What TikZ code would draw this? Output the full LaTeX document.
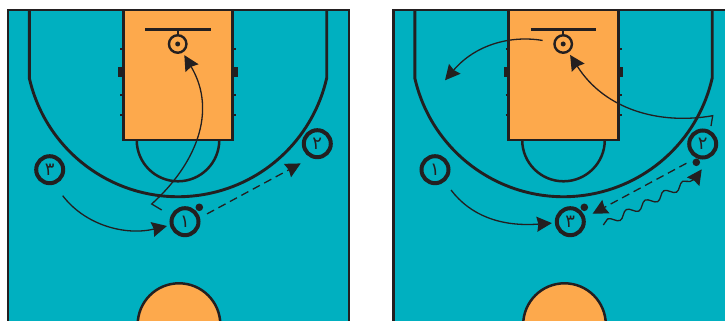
\documentclass[tikz,border=0pt]{standalone}
\usepackage{fontspec}
\usepackage{tikz}
\usetikzlibrary{arrows.meta,decorations.pathmorphing}
\newfontfamily\arabicfont[Script=Arabic]{DejaVu Sans}
\TeXXeTstate=1
\definecolor{courtteal}{RGB}{0,176,192}
\definecolor{keyorange}{RGB}{253,169,76}
\definecolor{inkblack}{RGB}{35,31,32}

\begin{document}
\begin{tikzpicture}[x=1pt,y=-1pt,
  courtline/.style={draw=inkblack,line width=2.9pt},
  hashmark/.style={draw=inkblack,line width=2pt},
  rim/.style={draw=inkblack,line width=2.4pt,circle,inner sep=0pt,minimum size=17.5pt},
  player/.style={draw=inkblack,line width=4pt,circle,inner sep=0pt,minimum size=27pt,
    text=inkblack,font=\arabicfont\fontsize{18}{18}\selectfont},
  ball/.style={fill=inkblack,circle,inner sep=0pt,minimum size=7.6pt},
  move/.style={draw=inkblack,line width=1.3pt,-{Stealth[length=15pt,width=15pt,inset=1.5pt]}},
  pass/.style={move,dash pattern=on 8pt off 5pt}]
\useasboundingbox (0,0) rectangle (725,321);
\clip (0,0) rectangle (725,321);
% the two half courts
\foreach \dx/\cname in {0/a,385.5/b}{
\begin{scope}[xshift=\dx pt]
\draw[courtline,fill=courtteal] (8,10) rectangle (349,340);
\draw[courtline] (29.3,10) -- (29.3,78) arc[start angle=167.2,end angle=12.8,radius=152.5] -- (326.7,10);
\draw[courtline,line width=2.5pt] (136.7,140) arc[start angle=180,end angle=0,radius=41.3];
\draw[courtline,fill=keyorange] (123.3,10) rectangle (232.7,140);
\draw[courtline,line width=2.5pt,fill=keyorange] (179,324.6) circle[radius=41.3];
\foreach \ya in {48.7,95.3,115.3}{
  \draw[hashmark] (120,\ya) -- (123.3,\ya);
  \draw[hashmark] (232.7,\ya) -- (236,\ya);
}
\fill[inkblack] (118.3,66.7) rectangle (123.3,77.3);
\fill[inkblack] (232.7,66.7) rectangle (237.7,77.3);
\draw[courtline] (145.3,29.3) -- (210.7,29.3);
\node[rim] (rim\cname) at (177.7,44) {};
\draw[hashmark,line width=1.8pt] (177.7,29.3) -- (rim\cname);
\fill[inkblack] (177.7,44) circle[radius=2.5];
\end{scope}
}
% first court
\node[player] (threea) at (49.7,169.7) {\beginR ٣\endR};
\node[player] (twoa) at (317.3,143.7) {\beginR ٢\endR};
\node[player] (onea) at (185,221.7) {\beginR ١\endR};
\node[ball] (balla) at (199.3,207.3) {};
\coordinate (cuta) at (62.7,195.7);
\coordinate (screena) at (161.7,210);
\coordinate (turna) at (151.7,204);
\draw[move,shorten >=3pt] (cuta) .. controls (85,225) and (125,236) .. (onea);
\draw[move,shorten >=3pt] (screena) -- (turna) .. controls (195,165) and (218,112) .. (rima);
\draw[pass,shorten <=8pt,shorten >=11.7pt] (onea.15) -- (twoa.246);
% second court
\node[player] (oneb) at (435,169.7) {\beginR ١\endR};
\node[player] (twob) at (702.7,144) {\beginR ٢\endR};
\node[player] (threeb) at (570.3,221.7) {\beginR ٣\endR};
\node[ball] (ballb) at (584.3,207.3) {};
\node[ball] (ballc) at (696.3,162.3) {};
\coordinate (cutb) at (451,190);
\coordinate (screenb) at (711,126);
\coordinate (turnb) at (712.7,115.7);
\coordinate (awayb) at (445,80.3);
\coordinate (dribblea) at (603.3,225);
\coordinate (dribbleb) at (695,179);
\coordinate (dribblec) at (701.7,169.3);
\draw[move,shorten >=3pt] (cutb) .. controls (470,215) and (500,227) .. (threeb);
\draw[move,shorten >=3pt] (screenb) -- (turnb) .. controls (660,125) and (605,110) .. (rimb);
\draw[move,shorten <=11pt] (rimb.170) .. controls (510,35) and (475,45) .. (awayb);
\draw[pass,shorten <=8pt,shorten >=8.3pt] (ballc.north west) -- (threeb.15);
\draw[move] decorate[decoration={snake,segment length=21pt,amplitude=3.5pt}] {(dribblea) -- (dribbleb)} -- (dribblec);
\end{tikzpicture}
\end{document}
